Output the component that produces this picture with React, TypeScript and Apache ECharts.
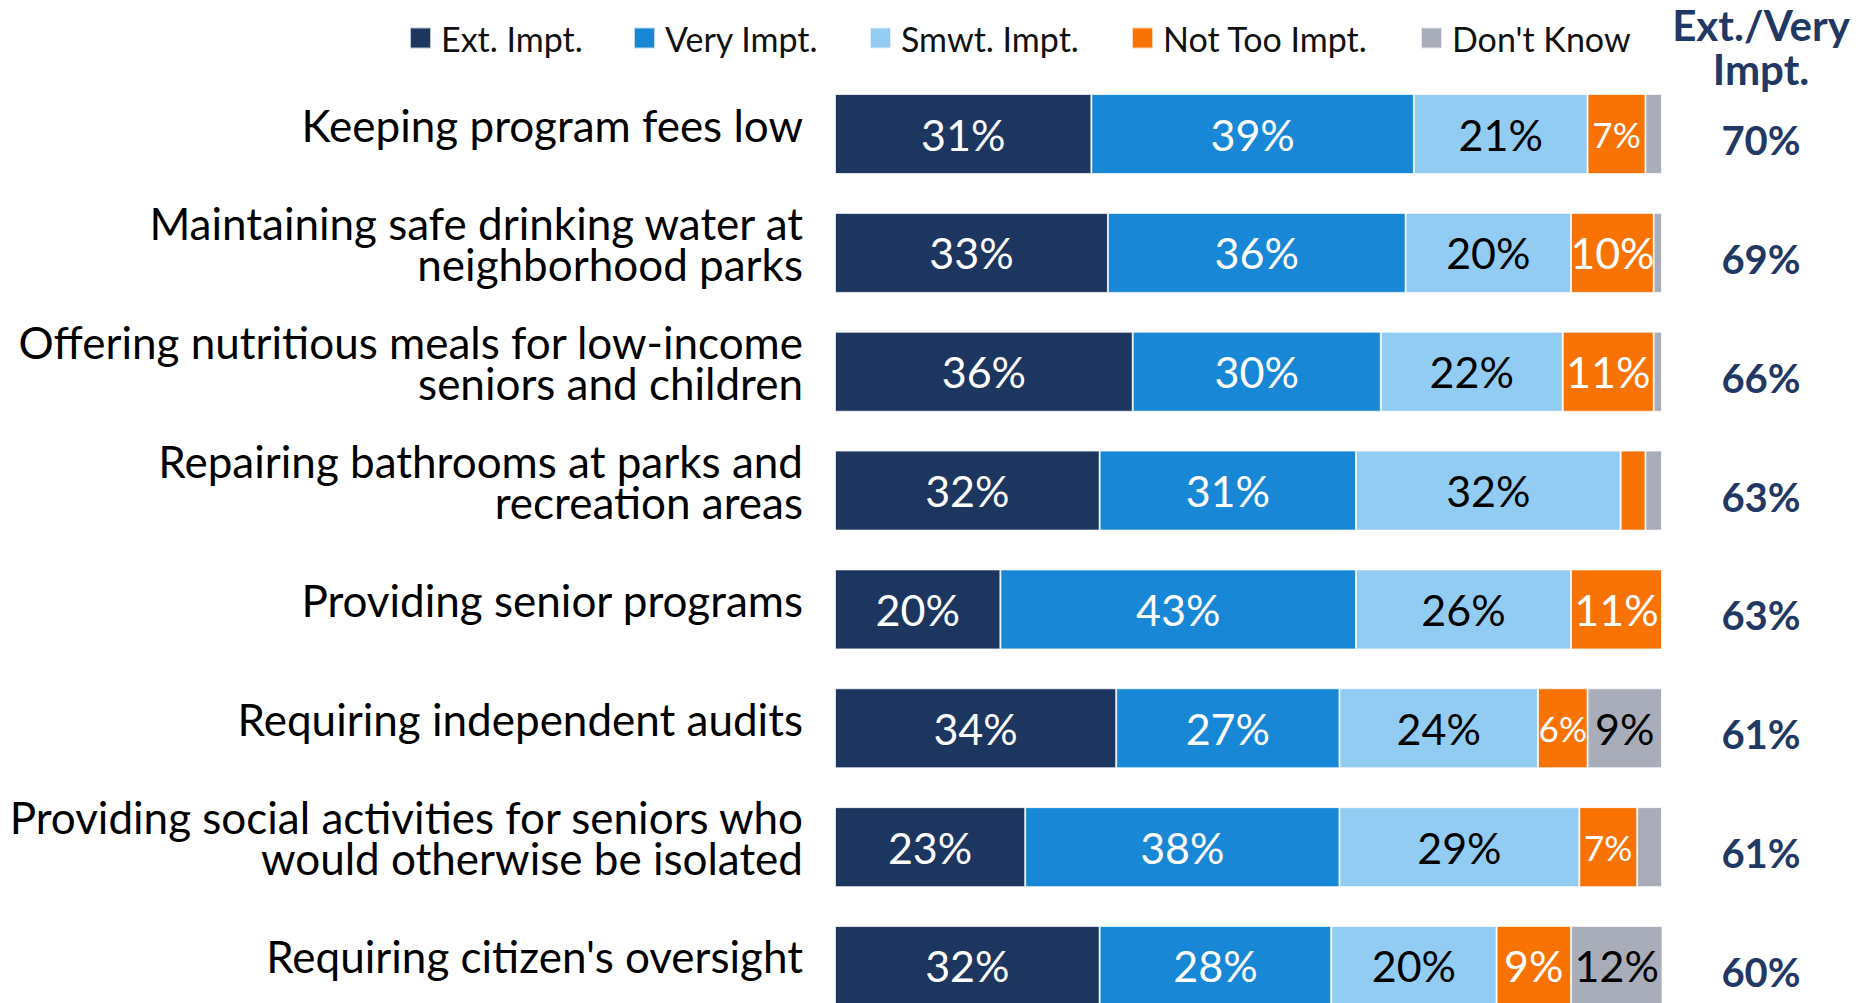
import React, { useEffect, useRef } from "react";
import * as echarts from "echarts";

const categories = [
  "Keeping program fees low",
  "Maintaining safe drinking water at\nneighborhood parks",
  "Offering nutritious meals for low-income\nseniors and children",
  "Repairing bathrooms at parks and\nrecreation areas",
  "Providing senior programs",
  "Requiring independent audits",
  "Providing social activities for seniors who\nwould otherwise be isolated",
  "Requiring citizen's oversight",
];
const seriesNames = ["Ext. Impt.", "Very Impt.", "Smwt. Impt.", "Not Too Impt.", "Don't Know"];
const extImpt = [31, 33, 36, 32, 20, 34, 23, 32];
const veryImpt = [39, 36, 30, 31, 43, 27, 38, 28];
const smwtImpt = [21, 20, 22, 32, 26, 24, 29, 20];
const notTooImpt = [7, 10, 11, 3, 11, 6, 7, 9];
const dontKnow = [2, 1, 1, 2, 0, 9, 3, 12];
const extVeryTotal = [70, 69, 66, 63, 63, 61, 61, 60];
const totalHeader = "Ext./Very\nImpt.";

const colors = ["#1C365F", "#1888D6", "#93CCF3", "#F87304", "#A9ACB9"];
const labelColors = ["#FFFFFF", "#FFFFFF", "#000000", "#FFFFFF", "#000000"];
const legendLeft = [409, 633, 869, 1131, 1420];
const FONT = 'Lato, "Open Sans", "Noto Sans", sans-serif';

export default function App() {
  const ref = useRef<HTMLDivElement>(null);
  useEffect(() => {
    if (!ref.current) return;
    const chart = echarts.init(ref.current, undefined, { renderer: "svg" });
    const allSeries = [extImpt, veryImpt, smwtImpt, notTooImpt, dontKnow];
    const option = {
      animation: false,
      backgroundColor: "#FFFFFF",
      textStyle: { fontFamily: FONT },
      legend: seriesNames.map((n, i) => ({
        data: [n],
        left: legendLeft[i],
        top: 21,
        icon: "rect",
        itemWidth: 21,
        itemHeight: 21,
        padding: 0,
        selectedMode: false,
        textStyle: { fontFamily: FONT, fontSize: 34, color: "#111111", padding: [0, 0, 0, 5] },
      })),
      grid: { left: 835, right: 200, top: 74.6, bottom: 0.6, containLabel: false },
      xAxis: {
        type: "value",
        min: 0,
        max: 100,
        show: false,
      },
      yAxis: [
        {
          type: "category",
          inverse: true,
          data: categories,
          axisLine: { show: false },
          axisTick: { show: false },
          axisLabel: {
            margin: 32,
            fontFamily: FONT,
            fontSize: 44,
            lineHeight: 41,
            color: "#000000",
            formatter: (v: string) => v + "\n{s|\u00a0}",
            rich: { s: { fontSize: 2, lineHeight: 19 } },
          },
        },
        {
          type: "category",
          inverse: true,
          position: "right",
          data: extVeryTotal.map((v) => v + "%"),
          axisLine: { show: false },
          axisTick: { show: false },
          axisLabel: {
            margin: 99,
            align: "center",
            fontFamily: FONT,
            fontSize: 40,
            fontWeight: "bold",
            lineHeight: 44,
            color: "#1F3864",
            formatter: (v: string) => "{s|\u00a0}\n" + v,
            rich: { s: { fontSize: 2, lineHeight: 12 } },
          },
        },
      ],
      graphic: [
        {
          type: "text",
          x: 1761,
          y: 47,
          style: {
            text: totalHeader,
            align: "center",
            verticalAlign: "middle",
            fontFamily: FONT,
            fontSize: 42,
            fontWeight: "bold",
            lineHeight: 44,
            fill: "#1F3864",
          },
        },
      ],
      series: allSeries.map((vals, si) => ({
        name: seriesNames[si],
        type: "bar",
        stack: "total",
        barWidth: 80,
        clip: true,
        itemStyle: { color: colors[si], borderColor: "rgba(255,255,255,0.7)", borderWidth: 1 },
        label: {
          show: true,
          position: "inside",
          color: labelColors[si],
          fontFamily: FONT,
          fontSize: 43,
          formatter: (p: any) => (p.value >= 5 ? p.value + "%" : ""),
        },
        data: vals.map((v) => ({
          value: v,
          label: { fontSize: v < 8 ? 35 : 43 },
        })),
      })),
    };
    chart.setOption(option as any);
    return () => chart.dispose();
  }, []);
  return (
    <div
      ref={ref}
      style={{ position: "fixed", left: 0, top: 0, width: 1862, height: 1026 }}
    />
  );
}
